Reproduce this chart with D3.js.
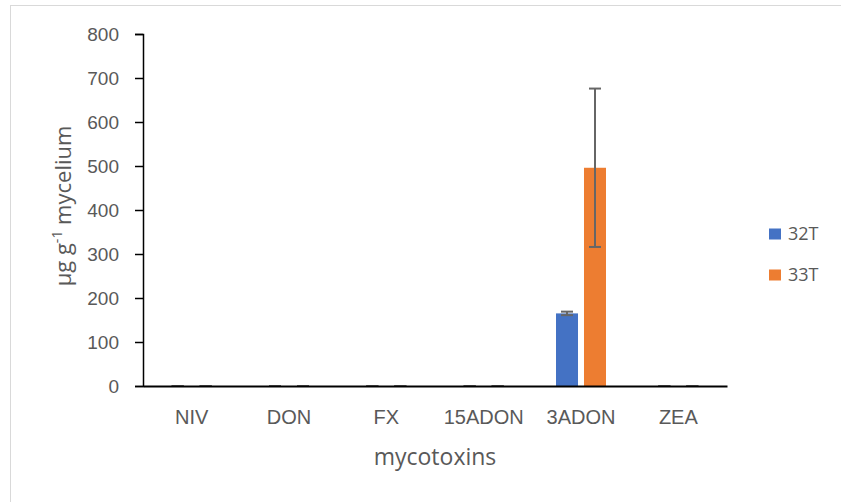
<!DOCTYPE html>
<html>
<head>
<meta charset="utf-8">
<script src="https://cdn.jsdelivr.net/npm/d3@7"></script>
<style>
  body { margin: 0; background: #fff; }
  svg { display: block; font-family: "Open Sans", sans-serif; }
  .tickLabel, .catLabel, .legendText, .axisTitle { fill: #595959; }
</style>
</head>
<body>
<div id="chart"></div>
<script>
var categories = ["NIV", "DON", "FX", "15ADON", "3ADON", "ZEA"];
var seriesNames = ["32T", "33T"];
var values32T = [0, 0, 0, 0, 165, 0];
var values33T = [0, 0, 0, 0, 496, 0];
var errors32T = [0, 0, 0, 0, 4, 0];
var errors33T = [0, 0, 0, 0, 180, 0];
var yTicks = [0, 100, 200, 300, 400, 500, 600, 700, 800];
var colors = ["#4472c4", "#ed7d31"];

var width = 841, height = 502;
var plot = {left: 143, right: 727, top: 34, bottom: 386};

var svg = d3.select("#chart").append("svg")
    .attr("width", width)
    .attr("height", height);

// outer frame
svg.append("rect")
    .attr("x", 10.5).attr("y", 5.5)
    .attr("width", 900).attr("height", 600)
    .attr("fill", "none")
    .attr("stroke", "#d9d9d9")
    .attr("stroke-width", 1);

var x = d3.scaleBand()
    .domain(categories)
    .range([plot.left, plot.right])
    .padding(0);

var x1 = d3.scaleBand()
    .domain(seriesNames)
    .range([0, x.bandwidth()])
    .paddingInner(0.214)
    .paddingOuter(0.846);

var y = d3.scaleLinear()
    .domain([0, 800])
    .range([plot.bottom, plot.top]);

// build rows per category
var data = categories.map(function(c, i) {
  return [
    {cat: c, s: "32T", v: values32T[i], e: errors32T[i], color: colors[0]},
    {cat: c, s: "33T", v: values33T[i], e: errors33T[i], color: colors[1]}
  ];
});

var groups = svg.selectAll(".group")
    .data(data)
  .enter().append("g")
    .attr("class", "group")
    .attr("transform", function(d) { return "translate(" + x(d[0].cat) + ",0)"; });

groups.selectAll(".bar")
    .data(function(d) { return d; })
  .enter().append("rect")
    .attr("class", "bar")
    .attr("x", function(d) { return x1(d.s); })
    .attr("y", function(d) { return y(d.v); })
    .attr("width", x1.bandwidth())
    .attr("height", function(d) { return y(0) - y(d.v); })
    .attr("fill", function(d) { return d.color; });

// error bars
var err = groups.selectAll(".err")
    .data(function(d) { return d; })
  .enter().append("g")
    .attr("class", "err")
    .attr("stroke", "#666")
    .attr("stroke-width", 2);

err.append("line")
    .attr("x1", function(d) { return x1(d.s) + x1.bandwidth() / 2; })
    .attr("x2", function(d) { return x1(d.s) + x1.bandwidth() / 2; })
    .attr("y1", function(d) { return y(d.v + d.e); })
    .attr("y2", function(d) { return y(d.v - d.e); });

err.append("line")
    .attr("x1", function(d) { return x1(d.s) + x1.bandwidth() / 2 - 6; })
    .attr("x2", function(d) { return x1(d.s) + x1.bandwidth() / 2 + 6; })
    .attr("y1", function(d) { return y(d.v + d.e); })
    .attr("y2", function(d) { return y(d.v + d.e); });

err.append("line")
    .attr("x1", function(d) { return x1(d.s) + x1.bandwidth() / 2 - 6; })
    .attr("x2", function(d) { return x1(d.s) + x1.bandwidth() / 2 + 6; })
    .attr("y1", function(d) { return y(d.v - d.e); })
    .attr("y2", function(d) { return y(d.v - d.e); });

// y axis
var gy = svg.append("g")
    .attr("transform", "translate(" + plot.left + ",0)")
    .call(d3.axisLeft(y).tickValues(yTicks).tickSize(8).tickPadding(16));
gy.select(".domain").attr("stroke", "#000").attr("stroke-width", 1.5);
gy.selectAll(".tick line").attr("stroke", "#000").attr("stroke-width", 1.5);
gy.selectAll(".tick text")
    .attr("class", "tickLabel")
    .attr("fill", "#595959")
    .style("font-size", "19px");

// x axis
var gx = svg.append("g")
    .attr("transform", "translate(0," + plot.bottom + ")")
    .call(d3.axisBottom(x).tickSize(0).tickPadding(24));
gx.select(".domain").attr("stroke", "#000").attr("stroke-width", 2);
gx.selectAll(".tick text")
    .attr("class", "catLabel")
    .attr("fill", "#595959")
    .style("font-size", "20px");

// axis titles
svg.append("text")
    .attr("class", "axisTitle")
    .attr("x", (plot.left + plot.right) / 2)
    .attr("y", 465)
    .attr("text-anchor", "middle")
    .style("font-size", "23px")
    .text("mycotoxins");

var yt = svg.append("text")
    .attr("class", "axisTitle")
    .attr("transform", "translate(71,206)rotate(-90)")
    .attr("text-anchor", "middle")
    .style("font-size", "22px");
yt.append("tspan").text("μg g");
yt.append("tspan").attr("dy", -9).style("font-size", "14px").text("-1");
yt.append("tspan").attr("dy", 9).text(" mycelium");

// legend
var legend = svg.selectAll(".legend")
    .data(seriesNames)
  .enter().append("g")
    .attr("class", "legend")
    .attr("transform", function(d, i) { return "translate(769," + (234 + i * 41) + ")"; });

legend.append("rect")
    .attr("x", 0).attr("y", -5.5)
    .attr("width", 12).attr("height", 11)
    .attr("fill", function(d, i) { return colors[i]; });

legend.append("text")
    .attr("class", "legendText")
    .attr("x", 19)
    .attr("dy", "0.35em")
    .style("font-size", "18px")
    .text(function(d) { return d; });
</script>
</body>
</html>
